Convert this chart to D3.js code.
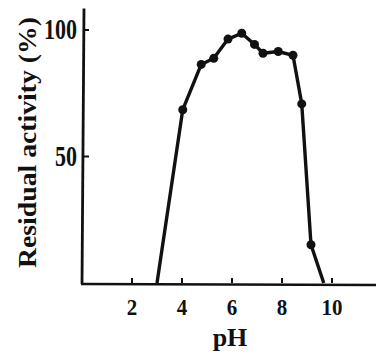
<!DOCTYPE html>
<html lang="en">
<head>
    <meta charset="UTF-8">
    <title>Residual activity vs pH</title>
    <script src="https://cdnjs.cloudflare.com/ajax/libs/d3/7.8.5/d3.min.js"></script>
    <style>
        body { margin: 0; background: #fff; }
        text { font-family: "Liberation Serif", "DejaVu Serif", serif; fill: #111; font-weight: bold; }
    </style>
</head>
<body>
    <svg id="chart" width="376" height="356"></svg>
    <script>
        // Curve through measured points; first and last are the zero crossings (no marker)
        const phValues = [3.0, 4.03, 4.77, 5.27, 5.84, 6.39, 6.9, 7.24, 7.85, 8.44, 8.79, 9.16, 9.67];
        const activityValues = [0, 68.5, 86.4, 88.8, 96.4, 98.7, 94.3, 90.8, 91.5, 90, 70.8, 15.1, 0];
        const xTicks = [2, 4, 6, 8, 10];
        const yTicks = [50, 100];

        const svg = d3.select("#chart");
        const x = d3.scaleLinear().domain([0, 12]).range([82, 382]);
        const y = d3.scaleLinear().domain([0, 100]).range([283, 30]);
        const ink = "#111";

        // axes
        svg.append("line")
            .attr("x1", x(0)).attr("x2", x(0) + 2)
            .attr("y1", y(0) + 1).attr("y2", y(108.5))
            .attr("stroke", ink).attr("stroke-width", 2.8);
        svg.append("line")
            .attr("x1", x(0) - 1).attr("x2", 376)
            .attr("y1", y(0) + 1).attr("y2", y(0) + 2)
            .attr("stroke", ink).attr("stroke-width", 2.6);

        // x ticks (inward) and labels
        svg.selectAll(".xt").data(xTicks).enter().append("line")
            .attr("x1", d => x(d)).attr("x2", d => x(d))
            .attr("y1", y(0)).attr("y2", y(0) - 5)
            .attr("stroke", ink).attr("stroke-width", 2);
        svg.selectAll(".xl").data(xTicks).enter().append("text")
            .attr("transform", d => `translate(${x(d)},315) scale(1,1.1)`)
            .attr("text-anchor", "middle")
            .attr("font-size", 21)
            .text(d => d);

        // y ticks (inward) and labels
        svg.selectAll(".yt").data(yTicks).enter().append("line")
            .attr("x1", d => x(0) + 2 * (d / 108.5)).attr("x2", d => x(0) + 7)
            .attr("y1", d => y(d)).attr("y2", d => y(d))
            .attr("stroke", ink).attr("stroke-width", 2);
        svg.selectAll(".yl").data(yTicks).enter().append("text")
            .attr("transform", d => `translate(${x(0) - 5},${y(d) + 9}) scale(1,1.3)`)
            .attr("text-anchor", "end")
            .attr("font-size", 22)
            .text(d => d);

        // axis titles
        svg.append("text")
            .attr("x", 230).attr("y", 346)
            .attr("text-anchor", "middle")
            .attr("font-size", 26)
            .text("pH");
        svg.append("text")
            .attr("transform", "translate(36,142.5) rotate(-90)")
            .attr("text-anchor", "middle")
            .attr("font-size", 25)
            .attr("textLength", 251)
            .attr("lengthAdjust", "spacingAndGlyphs")
            .text("Residual activity (%)");

        // curve
        const pts = phValues.map((p, i) => [p, activityValues[i]]);
        svg.append("path")
            .datum(pts)
            .attr("fill", "none")
            .attr("stroke", ink)
            .attr("stroke-width", 3.4)
            .attr("stroke-linejoin", "round")
            .attr("d", d3.line().x(d => x(d[0])).y(d => y(d[1])));

        // measured points
        svg.selectAll(".pt").data(pts.slice(1, -1)).enter().append("circle")
            .attr("cx", d => x(d[0])).attr("cy", d => y(d[1]))
            .attr("r", 4.5)
            .attr("fill", ink);
    </script>
</body>
</html>
